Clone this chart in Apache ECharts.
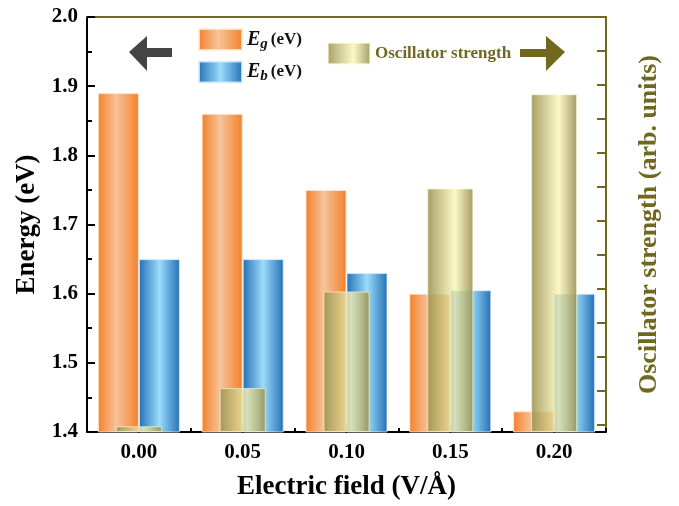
<!DOCTYPE html>
<html>
<head>
<meta charset="utf-8">
<script src="https://cdn.jsdelivr.net/npm/echarts@6/dist/echarts.min.js"></script>
<style>html,body{margin:0;padding:0;background:#fff;}#c{width:679px;height:506px;}</style>
</head>
<body>
<div id="c"></div>
<script>
var categories = ['0.00', '0.05', '0.10', '0.15', '0.20'];
var egValues = [1.89, 1.86, 1.75, 1.60, 1.43];
var ebValues = [1.65, 1.65, 1.63, 1.605, 1.60];
var oscValues = [0.17, 1.29, 4.13, 7.16, 9.93];
var energyTicks = [1.4, 2.0, 0.1];
var oscTicks = [0.2, 1.2, 2.2, 3.2, 4.2, 5.2, 6.2, 7.2, 8.2, 9.2, 10.2, 11.2];

var OLIVE = '#6f681e';
var FONT = '"Liberation Serif", "Times New Roman", serif';

function hgrad(stops) {
  return new echarts.graphic.LinearGradient(0, 0, 1, 0, stops.map(function (s) { return { offset: s[0], color: s[1] }; }));
}
var orangeGrad = hgrad([[0, '#f5802a'], [0.45, '#f6c39a'], [1, '#f5802a']]);
var blueGrad = hgrad([[0, '#2470b6'], [0.5, '#9adcfa'], [1, '#2470b6']]);
var oscGrad = hgrad([[0, 'rgba(150,142,72,0.85)'], [0.6, 'rgba(250,246,185,0.8)'], [1, 'rgba(146,138,70,0.85)']]);

var chart = echarts.init(document.getElementById('c'), null, { renderer: 'canvas' });
chart.setOption({
  animation: false,
  backgroundColor: '#fff',
  textStyle: { fontFamily: FONT },
  grid: { left: 87, right: 73, top: 17, bottom: 70, containLabel: false },
  legend: [{
    data: ['Eg', 'Eb'],
    orient: 'vertical',
    left: 193, top: 23,
    itemWidth: 43, itemHeight: 21, itemGap: 9,
    icon: 'rect',
    formatter: function (n) { return n === 'Eg' ? '{e|E}{s|g} {u|(eV)}' : '{e|E}{s|b} {u|(eV)}'; },
    textStyle: {
      rich: {
        e: { fontFamily: FONT, fontStyle: 'italic', fontWeight: 'bold', fontSize: 20, color: '#111' },
        s: { fontFamily: FONT, fontStyle: 'italic', fontWeight: 'bold', fontSize: 15, color: '#111', verticalAlign: 'bottom', padding: [9, 0, 0, 0] },
        u: { fontFamily: FONT, fontWeight: 'bold', fontSize: 17, color: '#111' }
      }
    }
  }, {
    data: ['Oscillator strength'],
    left: 322, top: 37,
    itemWidth: 42, itemHeight: 21,
    icon: 'rect',
    textStyle: { fontFamily: FONT, fontWeight: 'bold', fontSize: 17, color: OLIVE }
  }],
  xAxis: [{
    type: 'category',
    data: categories,
    position: 'bottom',
    name: 'Electric field (V/Å)',
    nameLocation: 'middle',
    nameGap: 42,
    nameTextStyle: { fontFamily: FONT, fontWeight: 'bold', fontSize: 27, color: '#000' },
    axisLine: { lineStyle: { color: '#000', width: 2 } },
    axisTick: { show: true, inside: true, length: 4, lineStyle: { color: '#000', width: 2 } },
    axisLabel: { fontFamily: FONT, fontWeight: 'bold', fontSize: 21, color: '#000', margin: 10 }
  }, {
    type: 'category',
    data: categories,
    position: 'bottom',
    axisLine: { show: false },
    axisTick: { show: true, inside: true, alignWithLabel: true, length: 6, lineStyle: { color: '#000', width: 2 } },
    axisLabel: { show: false }
  }, {
    type: 'category',
    data: categories,
    position: 'top',
    axisLine: { lineStyle: { color: OLIVE, width: 2 } },
    axisTick: { show: false },
    axisLabel: { show: false }
  }],
  yAxis: [{
    type: 'value',
    min: energyTicks[0], max: energyTicks[1], interval: energyTicks[2],
    position: 'left',
    name: 'Energy (eV)',
    nameLocation: 'middle',
    nameGap: 46,
    nameTextStyle: { fontFamily: FONT, fontWeight: 'bold', fontSize: 27, color: '#000' },
    axisLine: { show: true, lineStyle: { color: '#000', width: 2 } },
    axisTick: { show: true, inside: true, length: 8, lineStyle: { color: '#000', width: 2 } },
    minorTick: { show: true, splitNumber: 2, length: 5, lineStyle: { color: '#000', width: 2 } },
    splitLine: { show: false },
    axisLabel: { fontFamily: FONT, fontWeight: 'bold', fontSize: 21, color: '#000', margin: 9, formatter: function (v) { return v.toFixed(1); } }
  }, {
    type: 'value',
    min: 0, max: 12.2,
    position: 'right',
    name: 'Oscillator strength (arb. units)',
    nameLocation: 'middle',
    nameRotate: 90,
    nameGap: 30,
    nameTextStyle: { fontFamily: FONT, fontWeight: 'bold', fontSize: 26, color: OLIVE },
    axisLine: { show: true, lineStyle: { color: OLIVE, width: 2 } },
    axisTick: { show: true, inside: true, length: 9, customValues: oscTicks, lineStyle: { color: OLIVE, width: 2 } },
    splitLine: { show: false },
    axisLabel: { show: false }
  }],
  graphic: [{
    type: 'polygon',
    shape: { points: [[129, 52], [147, 36], [147, 48], [172, 48], [172, 57], [147, 57], [147, 71]] },
    style: { fill: '#444' }
  }, {
    type: 'polygon',
    shape: { points: [[565, 52], [546, 36], [546, 49], [520, 49], [520, 57], [546, 57], [546, 71]] },
    style: { fill: OLIVE }
  }],
  series: [{
    name: 'Eg', type: 'bar', xAxisIndex: 0, yAxisIndex: 0,
    data: egValues, barWidth: 41, barGap: '0%',
    itemStyle: { color: orangeGrad, borderColor: 'rgba(255,235,215,0.8)', borderWidth: 1 },
    z: 2
  }, {
    name: 'Eb', type: 'bar', xAxisIndex: 0, yAxisIndex: 0,
    data: ebValues, barWidth: 41, barGap: '0%',
    itemStyle: { color: blueGrad, borderColor: 'rgba(220,240,255,0.8)', borderWidth: 1 },
    z: 2
  }, {
    name: 'Oscillator strength', type: 'bar', xAxisIndex: 1, yAxisIndex: 1,
    data: oscValues, barWidth: 46,
    itemStyle: { color: oscGrad, borderColor: 'rgba(255,255,220,0.6)', borderWidth: 1 },
    z: 3
  }]
});
</script>
</body>
</html>
